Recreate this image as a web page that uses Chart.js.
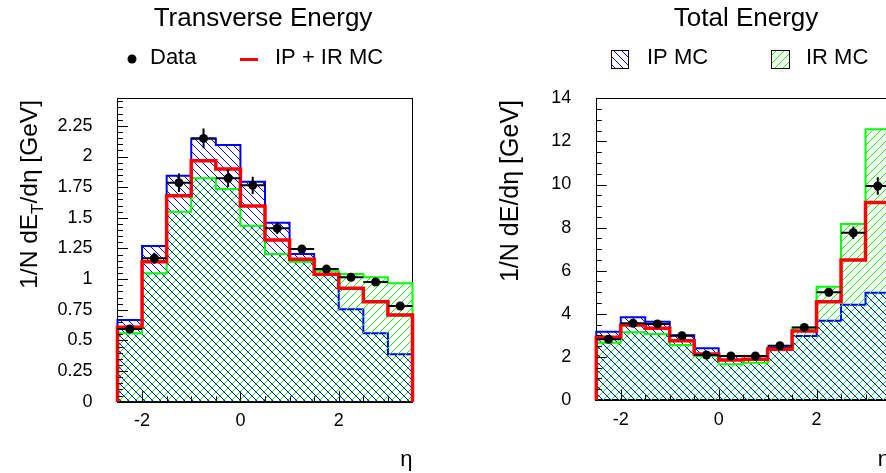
<!DOCTYPE html>
<html>
<head>
<meta charset="utf-8">
<title>Transverse and Total Energy vs eta</title>
<script src="https://cdn.jsdelivr.net/npm/chart.js"></script>
<style>
  html, body { margin:0; padding:0; background:#fff; overflow:hidden; }
  #wrap { position:relative; width:886px; height:473px; overflow:hidden; background:#fff; }
  canvas { position:absolute; top:0; }
  #cET { left:0; }
  #cE { left:443px; }
</style>
</head>
<body>
<div id="wrap">
  <canvas id="cET" width="526" height="473"></canvas>
  <canvas id="cE" width="606" height="473"></canvas>
</div>
<script>
// ---------------- data ----------------
const binEdges   = [-2.5, -2, -1.5, -1, -0.5, 0, 0.5, 1, 1.5, 2, 2.5, 3, 3.5];
const binCenters = [-2.25, -1.75, -1.25, -0.75, -0.25, 0.25, 0.75, 1.25, 1.75, 2.25, 2.75, 3.25];

// Transverse energy panel
const etData  = [0.593, 1.170, 1.786, 2.148, 1.822, 1.765, 1.414, 1.245, 1.082, 1.015, 0.976, 0.781];
const etErr   = [0.02, 0.045, 0.075, 0.08, 0.07, 0.07, 0.045, 0.03, 0.02, 0.02, 0.02, 0.02];
const etIPIR  = [0.607, 1.142, 1.680, 1.966, 1.898, 1.596, 1.319, 1.162, 1.039, 0.925, 0.816, 0.707];
const etIP    = [0.666, 1.270, 1.843, 2.148, 2.094, 1.794, 1.460, 1.205, 1.042, 0.754, 0.558, 0.387];
const etIR    = [0.558, 1.047, 1.550, 1.822, 1.735, 1.436, 1.205, 1.142, 1.069, 1.042, 1.015, 0.966];

// Total energy panel
const eData   = [2.82, 3.56, 3.53, 2.98, 2.09, 2.04, 2.04, 2.52, 3.37, 5.00, 7.76, 9.93];
const eErr    = [0.08, 0.10, 0.10, 0.08, 0.06, 0.06, 0.06, 0.07, 0.10, 0.18, 0.29, 0.41];
const eIPIR   = [2.91, 3.48, 3.33, 2.75, 2.13, 1.86, 1.89, 2.35, 3.20, 4.56, 6.50, 9.17];
const eIP     = [3.17, 3.84, 3.63, 3.00, 2.40, 2.04, 2.04, 2.43, 2.97, 3.68, 4.42, 4.98];
const eIR     = [2.66, 3.14, 3.06, 2.55, 2.04, 1.66, 1.73, 2.32, 3.37, 5.26, 8.17, 12.56];

// axis ticks
const xTickValues   = [-2, 0, 2];
const xTickLabels   = ['-2', '0', '2'];
const etYTickValues = [0, 0.25, 0.5, 0.75, 1, 1.25, 1.5, 1.75, 2, 2.25];
const etYTickLabels = ['0', '0.25', '0.5', '0.75', '1', '1.25', '1.5', '1.75', '2', '2.25'];
const eYTickValues  = [0, 2, 4, 6, 8, 10, 12, 14];
const eYTickLabels  = ['0', '2', '4', '6', '8', '10', '12', '14'];

// ---------------- helpers ----------------
const FONT = "'Liberation Sans', Arial, Helvetica, sans-serif";
Chart.defaults.font.family = FONT;
Chart.defaults.color = '#000';

function hatch(color, forward) {
  const s = 8;
  const c = document.createElement('canvas');
  c.width = s; c.height = s;
  const g = c.getContext('2d');
  g.fillStyle = color;
  for (let i = 0; i < s; i++) {
    const x = forward ? s - 1 - i : i;
    g.fillRect(x, i, 1, 1);
  }
  return c;
}

function histPoints(vals) {
  const pts = [{x: binEdges[0], y: 0}];
  vals.forEach((v, i) => pts.push({x: binEdges[i], y: v}));
  pts.push({x: binEdges[binEdges.length - 1], y: 0});
  return pts;
}
function centerPoints(vals) {
  return binCenters.map((c, i) => ({x: c, y: vals[i]}));
}
function errorPoints(vals, errs) {
  const pts = [];
  binCenters.forEach((c, i) => {
    pts.push({x: binEdges[i], y: vals[i]}, {x: binEdges[i + 1], y: vals[i]}, {x: c, y: null});
    pts.push({x: c, y: vals[i] - errs[i]}, {x: c, y: vals[i] + errs[i]}, {x: c, y: null});
  });
  return pts;
}

function makeDatasets(ctx, dat, err, ipir, ip, ir) {
  const ipPat = ctx.createPattern(hatch('#0000ff', false), 'repeat');
  const irPat = ctx.createPattern(hatch('#00ff00', true), 'repeat');
  return [
    {label: 'Data', data: centerPoints(dat), showLine: false, pointRadius: 4.5,
     pointBackgroundColor: '#000', pointBorderWidth: 0, borderColor: '#000', clip: false},
    {label: 'errors', data: errorPoints(dat, err), borderColor: '#000', borderWidth: 2,
     pointRadius: 0, spanGaps: false, fill: false, clip: false},
    {label: 'IP + IR MC', data: histPoints(ipir), stepped: true, borderColor: '#ff0000',
     borderWidth: 3.5, pointRadius: 0, fill: false, clip: false},
    {label: 'IR MC', data: histPoints(ir), stepped: true, borderColor: '#00ff00',
     borderWidth: 2, pointRadius: 0, fill: 'origin', backgroundColor: irPat, clip: false},
    {label: 'IP MC', data: histPoints(ip), stepped: true, borderColor: '#0000ff',
     borderWidth: 2, pointRadius: 0, fill: 'origin', backgroundColor: ipPat, clip: false}
  ];
}

// plugin: inner tick marks, rotated y titles (with subscript), legend
const rootDeco = {
  id: 'rootDeco',
  afterDatasetsDraw(chart, args, o) {
    const ctx = chart.ctx, a = chart.chartArea;
    const xs = chart.scales.x, ys = chart.scales.y;
    ctx.save();
    ctx.strokeStyle = '#000';
    ctx.lineWidth = 1;
    ctx.beginPath();
    const nY = Math.floor((ys.max - ys.min) / o.yMinor + 1e-6);
    for (let k = 1; k <= nY; k++) {
      const v = ys.min + k * o.yMinor;
      const r = v / o.yMajor;
      const major = Math.abs(r - Math.round(r)) < 1e-6;
      const py = Math.round(ys.getPixelForValue(v)) + 0.5;
      ctx.moveTo(a.left, py);
      ctx.lineTo(a.left + (major ? 10.5 : 5.5), py);
    }
    const nX = Math.floor((xs.max - xs.min) / o.xMinor + 1e-6);
    for (let k = 1; k < nX; k++) {
      const v = xs.min + k * o.xMinor;
      const r = v / o.xMajor;
      const major = Math.abs(r - Math.round(r)) < 1e-6;
      const px = Math.round(xs.getPixelForValue(v)) + 0.5;
      ctx.moveTo(px, a.bottom);
      ctx.lineTo(px, a.bottom - (major ? 10.5 : 5.5));
    }
    ctx.stroke();
    ctx.restore();
  },
  afterDraw(chart, args, o) {
    const ctx = chart.ctx;
    const ds = chart.data.datasets;
    ctx.save();
    // y-axis title
    const t = o.yTitle;
    const main = t.size + 'px ' + FONT, sub = Math.round(t.size * 0.7) + 'px ' + FONT;
    ctx.translate(t.x, t.top);
    ctx.rotate(-Math.PI / 2);
    ctx.textBaseline = 'middle';
    ctx.textAlign = 'left';
    ctx.fillStyle = '#000';
    let total = 0;
    t.parts.forEach(p => { ctx.font = p.sub ? sub : main; total += ctx.measureText(p.text).width; });
    let cx = -total;
    t.parts.forEach(p => {
      ctx.font = p.sub ? sub : main;
      ctx.fillText(p.text, cx, p.sub ? t.size * 0.32 : 0);
      cx += ctx.measureText(p.text).width;
    });
    ctx.restore();

    // legend
    ctx.save();
    ctx.font = o.legendFont + 'px ' + FONT;
    ctx.textBaseline = 'middle';
    ctx.textAlign = 'left';
    o.legend.forEach(it => {
      const d = ds[it.ds];
      if (it.type === 'dot') {
        ctx.fillStyle = d.pointBackgroundColor;
        ctx.beginPath(); ctx.arc(it.x, it.y, 4.5, 0, Math.PI * 2); ctx.fill();
      } else if (it.type === 'line') {
        ctx.strokeStyle = d.borderColor; ctx.lineWidth = 3;
        ctx.beginPath(); ctx.moveTo(it.x, it.y); ctx.lineTo(it.x + it.w, it.y); ctx.stroke();
      } else if (it.type === 'box') {
        ctx.fillStyle = d.backgroundColor;
        ctx.fillRect(it.x, it.y, it.w, it.h);
        ctx.strokeStyle = '#000'; ctx.lineWidth = 1;
        ctx.strokeRect(it.x + 0.5, it.y + 0.5, it.w, it.h);
      }
      ctx.fillStyle = '#000';
      ctx.fillText(d.label, it.tx, it.ty);
    });
    ctx.restore();
  }
};
Chart.register(rootDeco);

function makeChart(canvasId, cfg) {
  const canvas = document.getElementById(canvasId);
  const ctx = canvas.getContext('2d');
  const W = canvas.width;
  return new Chart(ctx, {
    type: 'line',
    data: {datasets: makeDatasets(ctx, cfg.dat, cfg.err, cfg.ipir, cfg.ip, cfg.ir)},
    options: {
      responsive: false,
      animation: false,
      events: [],
      layout: {padding: 0},
      scales: {
        x: {
          type: 'linear', position: 'bottom', min: binEdges[0], max: binEdges[binEdges.length - 1],
          afterBuildTicks: s => { s.ticks = xTickValues.map(v => ({value: v})); },
          afterFit: s => { s.height = cfg.xAxisHeight; },
          ticks: {callback: (v, i) => xTickLabels[i], padding: 9, font: {size: 18},
                  maxRotation: 0, autoSkip: false},
          grid: {display: false, drawTicks: false},
          border: {display: true, color: '#000', width: 2},
          title: {display: true, text: 'η', align: 'end', font: {size: 22},
                  padding: {top: 0, bottom: 0}}
        },
        y: {
          type: 'linear', position: 'left', min: 0, max: cfg.yMax,
          afterBuildTicks: s => { s.ticks = cfg.yTicks.map(v => ({value: v})); },
          afterFit: s => { s.width = cfg.chartLeft; },
          ticks: {callback: (v, i) => cfg.yLabels[i], padding: 25, font: {size: 18}},
          grid: {display: false, drawTicks: false},
          border: {display: true, color: '#000', width: 1}
        },
        yR: {
          type: 'linear', position: 'right', display: true,
          ticks: {display: false}, grid: {display: false, drawTicks: false},
          border: {display: true, color: '#000', width: 1},
          afterFit: s => { s.width = W - cfg.chartRight; }
        },
        xT: {
          type: 'linear', position: 'top', display: true,
          ticks: {display: false}, grid: {display: false, drawTicks: false},
          border: {display: true, color: '#000', width: 1},
          afterFit: s => { s.height = 0; }
        }
      },
      plugins: {
        legend: {display: false},
        tooltip: {enabled: false},
        title: {display: true, text: cfg.title, color: '#000',
                font: {size: 26, weight: 'normal'}, padding: {top: 3.6, bottom: 63.5}},
        rootDeco: cfg.deco
      }
    }
  });
}

makeChart('cET', {
  title: 'Transverse Energy',
  dat: etData, err: etErr, ipir: etIPIR, ip: etIP, ir: etIR,
  yMax: 2.475, yTicks: etYTickValues, yLabels: etYTickLabels,
  chartLeft: 117.5, chartRight: 412.5, xAxisHeight: 71.3,
  deco: {
    yMinor: 0.05, yMajor: 0.25, xMinor: 0.5, xMajor: 2,
    yTitle: {x: 30, top: 100, size: 24.5,
             parts: [{text: '1/N dE'}, {text: 'T', sub: true}, {text: '/dη [GeV]'}]},
    legendFont: 22,
    legend: [
      {ds: 0, type: 'dot', x: 132, y: 59, tx: 150, ty: 58},
      {ds: 2, type: 'line', x: 240, y: 59.5, w: 18, tx: 275, ty: 58}
    ]
  }
});

makeChart('cE', {
  title: 'Total Energy',
  dat: eData, err: eErr, ipir: eIPIR, ip: eIP, ir: eIR,
  yMax: 14, yTicks: eYTickValues, yLabels: eYTickLabels,
  chartLeft: 153.3, chartRight: 447, xAxisHeight: 73,
  deco: {
    yMinor: 0.5, yMajor: 2, xMinor: 0.5, xMajor: 2,
    yTitle: {x: 68, top: 100, size: 25,
             parts: [{text: '1/N dE/dη [GeV]'}]},
    legendFont: 22,
    legend: [
      {ds: 4, type: 'box', x: 168, y: 50, w: 17, h: 18, tx: 204, ty: 58},
      {ds: 3, type: 'box', x: 328, y: 50, w: 18, h: 18, tx: 363, ty: 58}
    ]
  }
});
</script>
</body>
</html>
